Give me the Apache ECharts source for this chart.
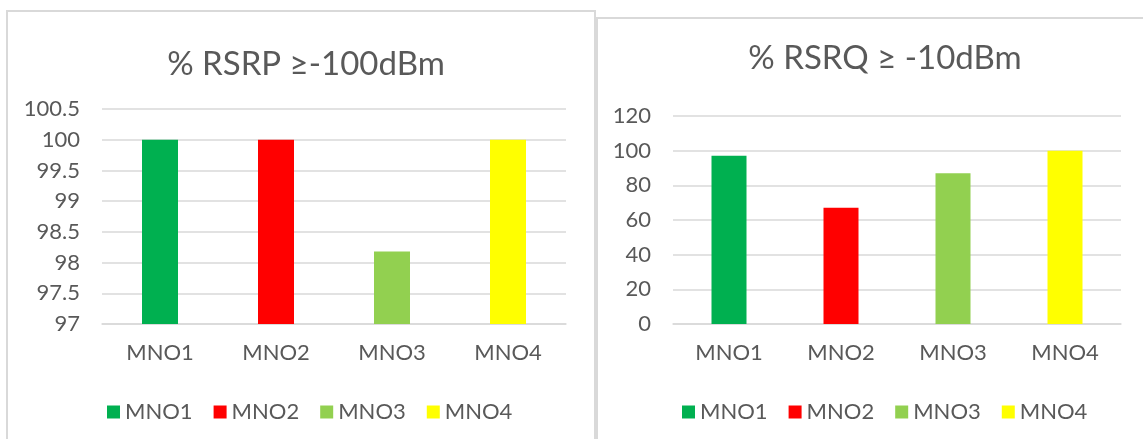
<!DOCTYPE html>
<html>
<head>
<meta charset="utf-8">
<script src="https://cdn.jsdelivr.net/npm/echarts@6/dist/echarts.min.js"></script>
<style>
  html, body { margin: 0; padding: 0; background: #ffffff; }
  #chart { width: 1143px; height: 439px; }
</style>
</head>
<body>
<div id="chart"></div>
<script>
// Operators shown on both panels
const operators = ['MNO1', 'MNO2', 'MNO3', 'MNO4'];
// Share of samples with RSRP >= -100 dBm
const rsrpValues = [100, 100, 98.18, 100];
// Share of samples with RSRQ >= -10 dB
const rsrqValues = [97, 67, 87, 100];
// One colour per operator
const operatorColors = ['#00B050', '#FF0000', '#92D050', '#FFFF00'];

const FONT = 'Lato';
const TEXT = '#595959';
const GRID_LINE = '#D9D9D9';

// Each operator is its own series so the legend lists it; bars overlap so each sits centred in its slot.
function operatorSeries(values, axisIndex, barWidth) {
  return operators.map((name, i) => ({
    type: 'bar',
    name: name,
    xAxisIndex: axisIndex,
    yAxisIndex: axisIndex,
    barWidth: barWidth,
    barGap: '-100%',
    itemStyle: { color: operatorColors[i] },
    data: values.map((v, j) => (j === i ? v : '-'))
  }));
}

function categoryAxis(gridIndex) {
  return {
    type: 'category',
    gridIndex: gridIndex,
    data: operators,
    axisTick: { show: false },
    axisLine: { lineStyle: { color: GRID_LINE, width: 1.5 } },
    axisLabel: { color: TEXT, fontFamily: FONT, fontSize: 22, margin: 18 }
  };
}

function valueAxis(gridIndex, min, max, interval) {
  return {
    type: 'value',
    gridIndex: gridIndex,
    min: min,
    max: max,
    interval: interval,
    axisLine: { show: false },
    axisTick: { show: false },
    axisLabel: { color: TEXT, fontFamily: FONT, fontSize: 22, margin: 22 },
    splitLine: { lineStyle: { color: GRID_LINE, width: 1.5 } }
  };
}

function legendFor(left) {
  return {
    left: left,
    top: 396,
    itemWidth: 13,
    itemHeight: 13,
    itemGap: 21,
    icon: 'rect',
    data: operators,
    textStyle: { color: TEXT, fontFamily: FONT, fontSize: 22 }
  };
}

const chart = echarts.init(document.getElementById('chart'), null, { renderer: 'canvas' });

chart.setOption({
  animation: false,
  backgroundColor: '#ffffff',
  graphic: [
    { type: 'rect', z: -10, shape: { x: 7, y: 11, width: 588, height: 440 },
      style: { fill: '#ffffff', stroke: GRID_LINE, lineWidth: 2 } },
    { type: 'rect', z: -10, shape: { x: 597, y: 18, width: 560, height: 440 },
      style: { fill: '#ffffff', stroke: GRID_LINE, lineWidth: 2 } }
  ],
  title: [
    { text: '% RSRP ≥-100dBm', left: 301, top: 43, textAlign: 'center',
      textStyle: { color: TEXT, fontFamily: FONT, fontSize: 33, fontWeight: 'normal' } },
    { text: '% RSRQ ≥ -10dBm', left: 880, top: 37, textAlign: 'center',
      textStyle: { color: TEXT, fontFamily: FONT, fontSize: 33, fontWeight: 'normal' } }
  ],
  legend: [legendFor(102), legendFor(677)],
  grid: [
    { left: 102, top: 109, width: 464, height: 215 },
    { left: 673, top: 116, width: 448, height: 208 }
  ],
  xAxis: [categoryAxis(0), categoryAxis(1)],
  yAxis: [valueAxis(0, 97, 100.5, 0.5), valueAxis(1, 0, 120, 20)],
  series: [
    ...operatorSeries(rsrpValues, 0, 36),
    ...operatorSeries(rsrqValues, 1, 35)
  ]
});
</script>
</body>
</html>
